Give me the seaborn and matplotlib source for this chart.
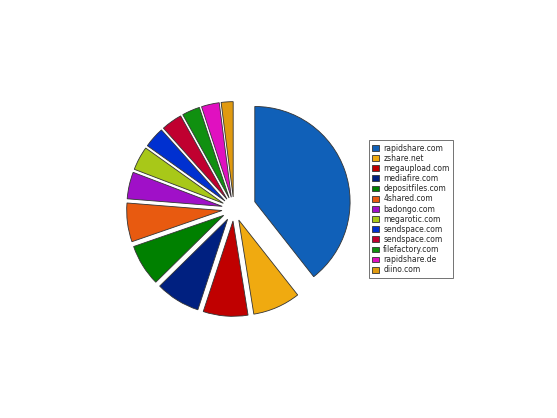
import matplotlib.pyplot as plt
import seaborn as sns

sns.set_style("white")

sites = ["rapidshare.com", "zshare.net", "megaupload.com", "mediafire.com",
         "depositfiles.com", "4shared.com", "badongo.com", "megarotic.com",
         "sendspace.com", "sendspace.com", "filefactory.com", "rapidshare.de",
         "diino.com"]
shares = [39, 8, 7.5, 7.5, 7, 6.5, 4.5, 4, 3.5, 3.5, 3, 3, 2]
colors = ["#1060b8", "#f0aa10", "#c00000", "#002080", "#008000", "#e85a10",
          "#a010c8", "#a8c818", "#0030d0", "#c00030", "#109010", "#e010c0",
          "#e09a10"]

explode = [0.22] + [0.12] * (len(shares) - 1)

fig = plt.figure(figsize=(5.57, 4.18), dpi=100)
ax = fig.add_axes([0.17, 0.2, 0.5, 0.6])
ax.pie(shares, colors=colors, explode=explode, startangle=90, counterclock=False,
       radius=0.95, wedgeprops={"edgecolor": "#333333", "linewidth": 0.6})
ax.set_aspect("equal")

handles = ax.patches
leg = fig.legend(handles, sites, loc="center left", bbox_to_anchor=(0.655, 0.5),
                 fontsize=5.5, frameon=True, fancybox=False, handlelength=0.9,
                 handleheight=0.8, handletextpad=0.5, labelspacing=0.15,
                 borderpad=0.5)
leg.get_frame().set_edgecolor("#333333")
leg.get_frame().set_linewidth(0.6)

fig.savefig("out.png", dpi=100)
